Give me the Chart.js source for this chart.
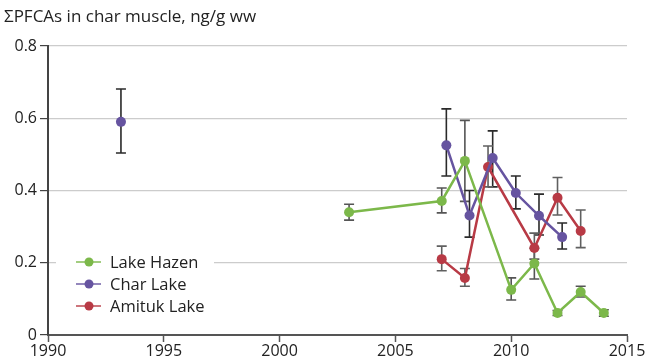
<!DOCTYPE html>
<html>
<head>
<meta charset="utf-8">
<script src="https://cdn.jsdelivr.net/npm/chart.js@4/dist/chart.umd.min.js"></script>
<style>
  html, body { margin: 0; padding: 0; background: #fff; }
  #wrap { position: relative; width: 647px; height: 362px; }
</style>
</head>
<body>
<div id="wrap"><canvas id="grafica" width="647" height="362"></canvas></div>
<script>
// === Datos ===
const tituloEje = 'ΣPFCAs in char muscle, ng/g ww';
const ticksX = [1990, 1995, 2000, 2005, 2010, 2015];

const hazenAnios = [2003, 2007, 2008, 2010, 2011, 2012, 2013, 2014];
const hazenValores = [0.34, 0.371, 0.482, 0.125, 0.198, 0.061, 0.119, 0.061];
const hazenBajo = [0.318, 0.338, 0.37, 0.097, 0.155, 0.054, 0.105, 0.052];
const hazenAlto = [0.362, 0.407, 0.594, 0.158, 0.24, 0.068, 0.135, 0.07];

const charAnios = [1993.15, 2007.2, 2008.2, 2009.2, 2010.2, 2011.2, 2012.2];
const charValores = [0.59, 0.525, 0.331, 0.49, 0.393, 0.33, 0.271];
const charBajo = [0.504, 0.44, 0.271, 0.41, 0.349, 0.277, 0.238];
const charAlto = [0.681, 0.626, 0.4, 0.565, 0.44, 0.39, 0.31];

const amitukAnios = [2007, 2008, 2009, 2011, 2012, 2013];
const amitukValores = [0.21, 0.158, 0.465, 0.241, 0.38, 0.288];
const amitukBajo = [0.178, 0.135, 0.41, 0.21, 0.332, 0.242];
const amitukAlto = [0.246, 0.184, 0.523, 0.282, 0.436, 0.346];

const nombresSeries = ['Lake Hazen', 'Char Lake', 'Amituk Lake'];
const coloresSeries = ['#7cb84a', '#6654a0', '#b83a45'];
const coloresError = ['#555555', '#2a2a2a', '#606060'];

// Tramos más largos que esto (años) no se unen con línea
const SALTO_MAXIMO_ANIOS = 8;

const FUENTE = '"Open Sans", "Noto Sans", sans-serif';

function armarPuntos(anios, valores, bajos, altos) {
  return anios.map((a, i) => ({ x: a, y: valores[i], bajo: bajos[i], alto: altos[i] }));
}

const series = [
  armarPuntos(hazenAnios, hazenValores, hazenBajo, hazenAlto),
  armarPuntos(charAnios, charValores, charBajo, charAlto),
  armarPuntos(amitukAnios, amitukValores, amitukBajo, amitukAlto),
];

// === Plugin: barras de error ===
const barrasError = {
  id: 'barrasError',
  beforeDatasetsDraw(chart) {
    const ctx = chart.ctx;
    const ex = chart.scales.x;
    const ey = chart.scales.y;
    ctx.save();
    ctx.lineWidth = 1.6;
    chart.data.datasets.forEach((ds, k) => {
      ctx.strokeStyle = coloresError[k];
      ds.data.forEach(p => {
        const px = ex.getPixelForValue(p.x);
        const y1 = ey.getPixelForValue(p.alto);
        const y2 = ey.getPixelForValue(p.bajo);
        ctx.beginPath();
        ctx.moveTo(px, y1); ctx.lineTo(px, y2);
        ctx.moveTo(px - 5, y1); ctx.lineTo(px + 5, y1);
        ctx.moveTo(px - 5, y2); ctx.lineTo(px + 5, y2);
        ctx.stroke();
      });
    });
    ctx.restore();
  },
};

// === Plugin: título y leyenda ===
const textosExtra = {
  id: 'textosExtra',
  afterDraw(chart) {
    const ctx = chart.ctx;
    ctx.save();
    ctx.fillStyle = '#222';
    ctx.font = '17px ' + FUENTE;
    ctx.textBaseline = 'alphabetic';
    ctx.textAlign = 'left';
    ctx.fillText(tituloEje, 4, 22);

    ctx.fillStyle = '#fff';
    ctx.fillRect(56, 250, 158, 66);
    ctx.font = '16.5px ' + FUENTE;
    ctx.textBaseline = 'middle';
    nombresSeries.forEach((nombre, i) => {
      const yy = 262 + i * 22;
      ctx.globalAlpha = 0.7;
      ctx.strokeStyle = coloresSeries[i];
      ctx.lineWidth = 2;
      ctx.beginPath();
      ctx.moveTo(76, yy); ctx.lineTo(101, yy);
      ctx.stroke();
      ctx.globalAlpha = 1;
      ctx.fillStyle = coloresSeries[i];
      ctx.beginPath();
      ctx.arc(89, yy, 4.5, 0, Math.PI * 2);
      ctx.fill();
      ctx.fillStyle = '#222';
      ctx.fillText(nombre, 110, yy + 1);
    });
    ctx.restore();
  },
};

new Chart(document.getElementById('grafica'), {
  type: 'line',
  data: {
    datasets: series.map((datos, i) => ({
      label: nombresSeries[i],
      data: datos,
      borderColor: coloresSeries[i],
      backgroundColor: coloresSeries[i],
      borderWidth: 2.5,
      pointRadius: 5,
      pointBorderWidth: 0,
      tension: 0,
      segment: {
        borderColor: s =>
          s.p1.parsed.x - s.p0.parsed.x > SALTO_MAXIMO_ANIOS ? 'rgba(0,0,0,0)' : coloresSeries[i],
      },
    })),
  },
  options: {
    responsive: false,
    animation: false,
    layout: { padding: { top: 46, right: 20, left: 0, bottom: 0 } },
    plugins: { legend: { display: false }, tooltip: { enabled: false } },
    scales: {
      x: {
        type: 'linear',
        min: 1990,
        max: 2015,
        afterBuildTicks: escala => { escala.ticks = ticksX.map(v => ({ value: v })); },
        afterFit: escala => { escala.height = 27; },
        ticks: {
          color: '#222',
          font: { family: FUENTE, size: 16 },
          padding: 0,
          maxRotation: 0,
          callback: v => String(v),
        },
        grid: { drawOnChartArea: false, tickLength: 7, tickColor: '#555', tickWidth: 1.5 },
        border: { color: '#555', width: 2 },
      },
      y: {
        min: 0,
        max: 0.8,
        afterFit: escala => { escala.width = 48; },
        ticks: {
          stepSize: 0.2,
          color: '#222',
          font: { family: FUENTE, size: 16 },
          padding: 3,
          callback: v => (v === 0 ? '0' : v.toFixed(1)),
        },
        grid: { color: '#cccccc', lineWidth: 1.2, tickLength: 8, tickColor: '#444', tickWidth: 1.2 },
        border: { color: '#444', width: 2 },
      },
    },
  },
  plugins: [barrasError, textosExtra],
});
</script>
</body>
</html>
